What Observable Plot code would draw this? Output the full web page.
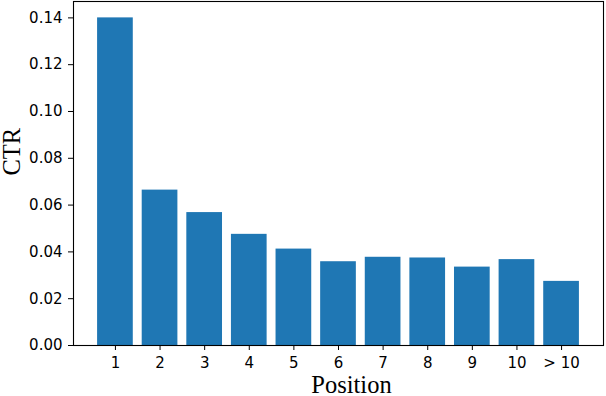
<!DOCTYPE html>
<html>
<head>
<meta charset="utf-8">
<script src="https://cdn.jsdelivr.net/npm/d3@7"></script>
<script src="https://cdn.jsdelivr.net/npm/@observablehq/plot@0.6"></script>
<style>
  html, body { margin: 0; padding: 0; background: #fff; }
  #chart svg g[aria-label$="tick label"] { font-family: "DejaVu Sans"; font-size: 15px; }
</style>
</head>
<body>
<div id="chart"></div>
<script>
const positions = ["1", "2", "3", "4", "5", "6", "7", "8", "9", "10", "> 10"];
const ctr = [0.140, 0.0664, 0.0568, 0.0475, 0.0412, 0.0358, 0.0377, 0.0374, 0.0335, 0.0367, 0.0274];
const yTicks = [0, 0.02, 0.04, 0.06, 0.08, 0.10, 0.12, 0.14];
const xLabel = "Position";
const yLabel = "CTR";

const data = positions.map((p, i) => ({position: p, ctr: ctr[i]}));

const chart = Plot.plot({
  width: 606,
  height: 396,
  marginLeft: 73,
  marginRight: 3,
  marginTop: 1,
  marginBottom: 51,
  style: {fontFamily: "DejaVu Sans", fontSize: "15px", color: "black", background: "white"},
  x: {domain: positions, paddingInner: 0.2, paddingOuter: 0.54, align: 0.5, round: false, label: null},
  y: {domain: [0, 0.147], label: null},
  marks: [
    Plot.barY(data, {x: "position", y: "ctr", fill: "#1f77b4"}),
    Plot.axisX({tickSize: 5, tickPadding: 7, label: null, stroke: "black", fill: "black", fontFamily: "DejaVu Sans", fontSize: 15}),
    Plot.axisY({ticks: yTicks, tickFormat: d3.format(".2f"), tickSize: 5, tickPadding: 6, label: null, stroke: "black", fill: "black", fontFamily: "DejaVu Sans", fontSize: 15}),
    Plot.frame({stroke: "black", strokeWidth: 1.1}),
    Plot.text([xLabel], {frameAnchor: "bottom", text: d => d, dy: 47, dx: 13, lineAnchor: "bottom", fontFamily: "Liberation Serif", fontSize: 24.5, fill: "black"}),
    Plot.text([yLabel], {frameAnchor: "left", text: d => d, rotate: -90, dx: -54, dy: 2, lineAnchor: "bottom", fontFamily: "Liberation Serif", fontSize: 24.5, fill: "black"})
  ]
});
document.getElementById("chart").appendChild(chart);
</script>
</body>
</html>
